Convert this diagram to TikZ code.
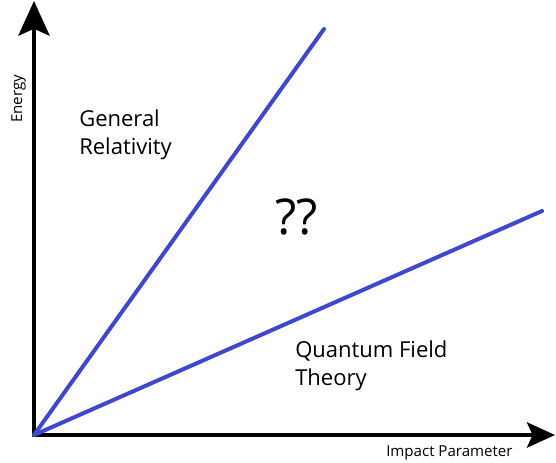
\documentclass[tikz,border=0pt]{standalone}
\usepackage{fontspec}
\setmainfont{Open Sans}
\usetikzlibrary{arrows.meta}
\definecolor{RegimeBlue}{RGB}{63,72,204}
\tikzset{
  % Black axis with a large stealth head
  axis/.style={
    line width=3pt, line cap=rect,
    -{Stealth[length=#1, width=0.9*#1, inset=0.2*#1]}
  },
  % Boundary line between regimes
  border/.style={line width=3pt, color=RegimeBlue, line cap=round},
  % Region label
  lbl/.style={inner sep=0pt, align=left,
    font=\fontsize{16.5}{21}\selectfont},
  % Axis caption
  axlbl/.style={inner sep=0pt, font=\fontsize{11.3}{13}\selectfont}
}
\begin{document}
\begin{tikzpicture}[x=0.75pt, y=-0.75pt]
  \useasboundingbox (0,0) rectangle (556,463);

  % Axes
  \coordinate (o) at (34,435);
  \coordinate (ytop) at (34,1);
  \coordinate (xend) at (555,435);
  \draw[axis=26pt] (o) -- (ytop);
  \draw[axis=21pt] (o) -- (xend);

  % Regime boundaries
  \coordinate (grend) at (324,29);
  \coordinate (qftend) at (542,211);
  \draw[border] (o) -- (grend);
  \draw[border] (o) -- (qftend);

  % Labels
  \node[axlbl, rotate=90, anchor=base] (energy) at (22,99) {Energy};
  \node[axlbl, anchor=base west] (impact) at (386,456) {Impact Parameter};
  \node[lbl, anchor=base west] (gr) at (79,155) {General\\Relativity};
  \node[lbl, anchor=base west] (qft) at (295,385) {Quantum Field\\Theory};
  \node[inner sep=0pt, anchor=base west, font=\fontsize{37}{40}\selectfont]
    (unknown) at (275,234) {??};

\end{tikzpicture}
\end{document}
